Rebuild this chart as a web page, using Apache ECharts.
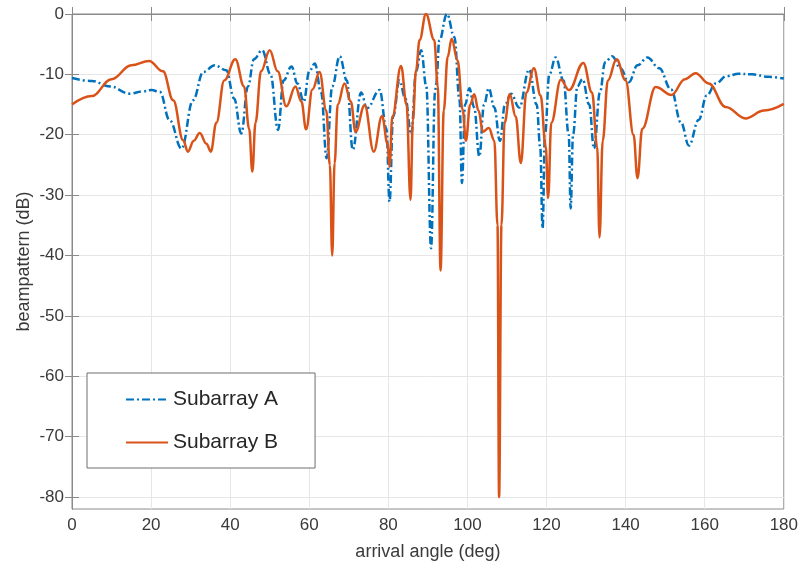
<!DOCTYPE html>
<html>
<head>
<meta charset="utf-8">
<script src="https://cdn.jsdelivr.net/npm/echarts@6/dist/echarts.min.js"></script>
<style>
  html, body { margin: 0; padding: 0; background: #fff; }
  #chart { width: 801px; height: 570px; }
</style>
</head>
<body>
<div id="chart"></div>
<script>
// Beampattern of the two subarrays versus arrival angle, in [angle (deg), level (dB)]
const seriesNames = ['Subarray A', 'Subarray B'];

const subarrayA = [
  [0, -10.6], [5, -11.1], [9.6, -12.0], [14.6, -13.2], [18, -12.8], [20.1, -12.6],
  [22.2, -12.9], [24.7, -17.6], [27.7, -22.3], [30.6, -14.3], [33.2, -9.6], [36.1, -8.5],
  [39, -9.3], [41, -14], [42.8, -19.8], [44.5, -12], [46, -7.5], [48.1, -6.0],
  [50.2, -10], [52.1, -19.2], [53.5, -11], [55.5, -8.7], [57, -11.5], [58.6, -14.5],
  [60, -9.5], [61.4, -8.2], [63, -13], [64.4, -23.9], [65.8, -12], [67.7, -7.0],
  [69.5, -11], [71, -22.5], [73.1, -13.0], [74.6, -15.6], [77.8, -12.6], [79.5, -19],
  [80.3, -31.1], [81.2, -17], [82.8, -11.0], [84.3, -14], [85.8, -20], [87, -9.5],
  [88.3, -6.0], [89.6, -12], [90.8, -38.8], [91.8, -13], [92.1, -11.5], [92.9, -4.4],
  [94.8, 0], [96.7, -3.8], [98.0, -14.3], [98.6, -28.0], [99.4, -15], [100.5, -12.3],
  [101.7, -15.5], [103, -23.6], [104.2, -15], [105.4, -12.3], [106.8, -15.5], [108.2, -21],
  [109.5, -15], [111, -13.2], [113.1, -15.5], [115.6, -9.2], [117.5, -15], [118.4, -22],
  [119, -35.5], [119.6, -20], [120.7, -10], [122.3, -7.2], [124.3, -11], [125.6, -20],
  [126.1, -32.2], [126.7, -20], [127.8, -12], [129.1, -10.8], [130.8, -15], [132, -22.3],
  [133.5, -13], [134.8, -8], [136.6, -7.0], [138.7, -9], [140.8, -11.3], [143, -8.5],
  [145.5, -7.2], [148.5, -9], [151.5, -12.5], [154, -18], [156, -21.8], [158.5, -17.5],
  [160.5, -13.5], [162.8, -11.5], [165.5, -10.3], [168.6, -9.9], [172, -10], [176, -10.4],
  [180, -10.7]
];

const subarrayB = [
  [0, -15.0], [5, -13.6], [10, -10.8], [15, -8.5], [19.5, -7.8], [23, -9.5],
  [25.6, -14.3], [28.1, -20.9], [29.3, -22.8], [30.8, -21.0], [32.3, -19.7], [34, -21.5],
  [35.1, -22.8], [36.5, -18], [38.5, -11], [41.3, -7.5], [43.5, -12], [44.8, -19],
  [45.6, -26.1], [46.4, -18], [47.8, -9.5], [50, -6.0], [52, -9.5], [54.2, -15.3],
  [56.5, -12.0], [58, -14.5], [59.2, -19.1], [60.8, -12.5], [62.6, -9.6], [64.3, -16],
  [65.2, -25], [65.8, -40.0], [66.4, -24.7], [67.2, -15], [68.9, -11.5], [70.5, -14.5],
  [71.7, -19.5], [74, -15.1], [76.3, -22.8], [78.4, -16.9], [79.8, -21.5], [80.3, -25.3],
  [81, -17], [83.2, -8.6], [84.6, -15], [85.6, -30.8], [86.2, -17.6], [87.0, -9.3],
  [87.9, -4.3], [89.5, 0], [91.6, -4.3], [92.5, -12], [93.2, -42.5], [94.0, -16],
  [95, -7.1], [96, -4.1], [97.5, -7.7], [98.8, -15.9], [99.6, -21.0], [100.7, -15],
  [101.7, -13.3], [102.8, -16], [103.9, -19.5], [105.4, -18.9], [106.8, -21.0], [107.6, -35],
  [108.0, -80], [108.6, -35], [109.4, -18], [110.7, -13.3], [112.2, -17], [113.5, -24.7],
  [114.9, -13], [116.8, -9.0], [118.5, -13.5], [119.8, -22], [120.4, -30.5], [121.2, -18],
  [123.6, -10.9], [125.7, -12.6], [129.3, -8.1], [131.5, -13], [132.8, -22], [133.4, -37],
  [134.2, -21], [135.5, -11], [137.7, -7.5], [140, -11], [142, -20], [143, -27.2],
  [144.2, -19], [147.6, -12.1], [151.6, -13.4], [155, -10.8], [157.7, -9.8], [161, -11.5],
  [165.3, -15.4], [170.3, -17.3], [175, -16], [180, -14.9]
];

// Axis ranges and tick values
const xRange = [0, 180];
const xStep = 20;
const yRange = [-82, 0];
const yTicks = [-80, -70, -60, -50, -40, -30, -20, -10, 0];

const FONT = "'Liberation Sans', Arial, Helvetica, sans-serif";
const frameColor = '#8a8a8a';
const gridColor = '#e6e6e6';
const textColor = '#3a3a3a';

const chart = echarts.init(document.getElementById('chart'), null, { renderer: 'canvas' });

const option = {
  animation: false,
  backgroundColor: '#ffffff',
  textStyle: { fontFamily: FONT },
  grid: {
    left: 72, right: 15, top: 14, bottom: 61,
    show: true, borderColor: frameColor, borderWidth: 1, backgroundColor: 'transparent'
  },
  legend: {
    data: seriesNames,
    orient: 'vertical',
    left: 87, top: 373,
    padding: [16, 37, 15, 38],
    itemWidth: 42, itemHeight: 14, itemGap: 22,
    itemStyle: { opacity: 0 },
    borderColor: '#6e6e6e', borderWidth: 1,
    backgroundColor: '#ffffff',
    textStyle: { fontSize: 21, color: '#262626', fontFamily: FONT }
  },
  xAxis: [{
    type: 'value', min: xRange[0], max: xRange[1], interval: xStep,
    name: 'arrival angle (deg)', nameLocation: 'middle', nameGap: 34,
    nameTextStyle: { fontSize: 18, color: textColor, fontFamily: FONT },
    axisLine: { show: true, lineStyle: { color: frameColor, width: 1 } },
    axisTick: { show: true, inside: true, length: 7, lineStyle: { color: frameColor } },
    axisLabel: { fontSize: 17, color: textColor, margin: 8, fontFamily: FONT },
    splitLine: { show: true, lineStyle: { color: gridColor, width: 1 } }
  }, {
    type: 'value', position: 'top', min: xRange[0], max: xRange[1], interval: xStep,
    axisLine: { show: true, lineStyle: { color: frameColor } },
    axisTick: { show: true, inside: true, length: 7, lineStyle: { color: frameColor } },
    axisLabel: { show: false }, splitLine: { show: false }
  }],
  yAxis: [{
    type: 'value', min: yRange[0], max: yRange[1], splitNumber: 8,
    minInterval: 10, maxInterval: 10,
    name: 'beampattern (dB)', nameLocation: 'middle', nameGap: 39, nameRotate: 90,
    nameMoveOverlap: false,
    nameTextStyle: { fontSize: 18, color: textColor, fontFamily: FONT },
    axisLine: { show: true, lineStyle: { color: frameColor, width: 1 } },
    axisTick: { show: true, inside: true, length: 7, customValues: yTicks, lineStyle: { color: frameColor } },
    axisLabel: { fontSize: 17, color: textColor, margin: 8, fontFamily: FONT, customValues: yTicks },
    splitLine: { show: true, lineStyle: { color: gridColor, width: 1 } }
  }, {
    type: 'value', position: 'right', min: yRange[0], max: yRange[1], splitNumber: 8,
    minInterval: 10, maxInterval: 10,
    axisLine: { show: true, lineStyle: { color: frameColor } },
    axisTick: { show: true, inside: true, length: 7, customValues: yTicks, lineStyle: { color: frameColor } },
    axisLabel: { show: false }, splitLine: { show: false }
  }],
  series: [{
    name: seriesNames[0],
    type: 'line',
    data: subarrayA,
    xAxisIndex: 0, yAxisIndex: 0,
    symbol: 'none',
    smooth: 0.4, smoothMonotone: 'x',
    lineStyle: { color: '#0072BD', width: 2.5, type: [8, 3, 2, 3] },
    itemStyle: { color: '#0072BD' },
    z: 2
  }, {
    name: seriesNames[1],
    type: 'line',
    data: subarrayB,
    xAxisIndex: 0, yAxisIndex: 0,
    symbol: 'none',
    smooth: 0.4, smoothMonotone: 'x',
    lineStyle: { color: '#D95319', width: 2.5 },
    itemStyle: { color: '#D95319' },
    z: 3
  }]
};

chart.setOption(option);
</script>
</body>
</html>
